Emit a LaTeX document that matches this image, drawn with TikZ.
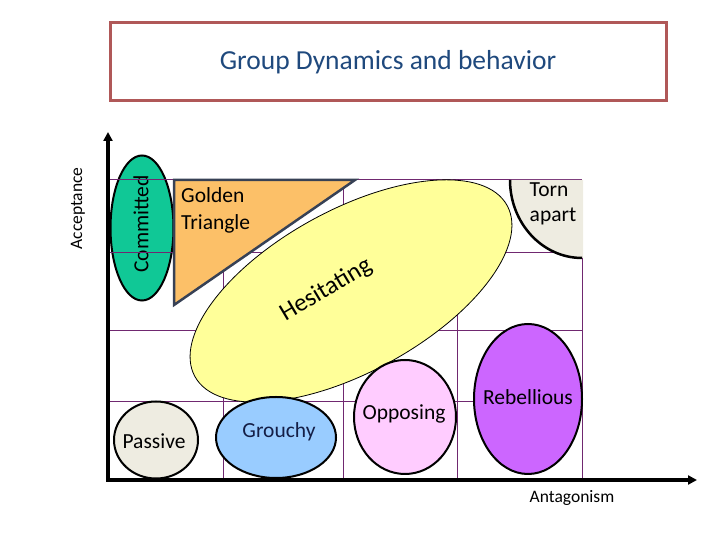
\documentclass[tikz,border=0pt]{standalone}
\usepackage{fontspec}
\setmainfont{Carlito}
\usetikzlibrary{shapes.geometric,arrows.meta}
\definecolor{titleborder}{RGB}{176,88,88}
\definecolor{titletext}{RGB}{31,73,125}
\definecolor{gridc}{RGB}{112,40,112}
\definecolor{committedc}{RGB}{16,200,150}
\definecolor{goldenc}{RGB}{252,192,104}
\definecolor{triedge}{RGB}{55,65,85}
\definecolor{hesc}{RGB}{255,255,153}
\definecolor{greyc}{RGB}{238,236,225}
\definecolor{grouchyc}{RGB}{153,204,255}
\definecolor{opposingc}{RGB}{255,204,255}
\definecolor{rebelc}{RGB}{204,102,255}
\definecolor{navytext}{RGB}{20,30,70}
\tikzset{
  blob/.style={ellipse, draw=black, line width=2pt, inner sep=0pt},
  lbl/.style={font=\fontsize{21.5}{26}\selectfont, inner sep=0pt},
  axislbl/.style={font=\fontsize{17.5}{21}\selectfont, inner sep=0pt},
  gridline/.style={draw=gridc, line width=1pt},
  axisline/.style={line width=4pt, -{Triangle[length=9pt,width=9pt]}}
}
\begin{document}
\begin{tikzpicture}[x=1pt,y=1pt]
\useasboundingbox (0,0) rectangle (720,540);
% title
\node[draw=titleborder, line width=3pt, minimum width=556pt, minimum height=78pt, inner sep=0pt] (titlebox) at (388,478) {};
\node[font=\fontsize{27.5}{33}\selectfont, text=titletext, inner sep=0pt] (title) at (388,478) {Group Dynamics and behavior};
% committed ellipse (below grid)
\node[blob, fill=committedc, minimum width=63pt, minimum height=145pt] (committed) at (142,312) {};
\node[lbl, rotate=90] (committedt) at (141,316) {Committed};
% grid
\coordinate (g00) at (108,60);
\coordinate (g11) at (582,360);
\foreach \x in {223,343,457,582} \draw[gridline] (\x,60) -- (\x,360);
\foreach \y in {360,287,209,138} \draw[gridline] (108,\y) -- (582,\y);
% axes
\coordinate (origin) at (108,58);
\coordinate (ytip) at (108,408);
\coordinate (xtip) at (697,60);
\draw[axisline] (origin) -- (ytip);
\draw[axisline] (106,60) -- (xtip);
\node[axislbl, rotate=90] (acceptance) at (78,331.5) {Acceptance};
\node[axislbl] (antagonism) at (572,42) {Antagonism};
% golden triangle
\draw[fill=goldenc, draw=triedge, line width=2.5pt, line join=miter] (174,360) -- (355,360) -- (174,235) -- cycle;
\node[lbl, align=left, anchor=west, font=\fontsize{21.5}{27}\selectfont] (golden) at (181,329.5) {Golden\\Triangle};
% torn apart
\fill[greyc] (583,360) -- (510,360) arc[start angle=180, end angle=270, x radius=72pt, y radius=78pt] -- (583,282) -- cycle;
\draw[line width=2.5pt] (510,360) arc[start angle=180, end angle=270, x radius=72pt, y radius=78pt];
\node[lbl, align=left, anchor=west, font=\fontsize{21.5}{25}\selectfont] (torn) at (529.5,336.5) {Torn\\apart};
% hesitating
\node[ellipse, draw=black, line width=0.8pt, fill=hesc, minimum width=356pt, minimum height=162pt, inner sep=0pt, rotate=28.7] (hes) at (351,249) {};
\node[font=\fontsize{25}{30}\selectfont, inner sep=0pt, rotate=31] (hest) at (326,250) {Hesitating};
% bottom ellipses
\node[blob, fill=greyc, minimum width=84pt, minimum height=77pt] (passive) at (156,100) {};
\node[lbl] (passivet) at (154,99) {Passive};
\node[blob, fill=grouchyc, minimum width=120pt, minimum height=81pt] (grouchy) at (276,102.5) {};
\node[lbl, text=navytext] (grouchyt) at (279,108) {Grouchy};
\node[blob, fill=opposingc, minimum width=102pt, minimum height=114pt] (opposing) at (405,123) {};
\node[lbl] (opposingt) at (404,126) {Opposing};
\node[blob, fill=rebelc, minimum width=108pt, minimum height=150pt] (rebel) at (528,141) {};
\node[lbl] (rebelt) at (528,143) {Rebellious};
\end{tikzpicture}
\end{document}
